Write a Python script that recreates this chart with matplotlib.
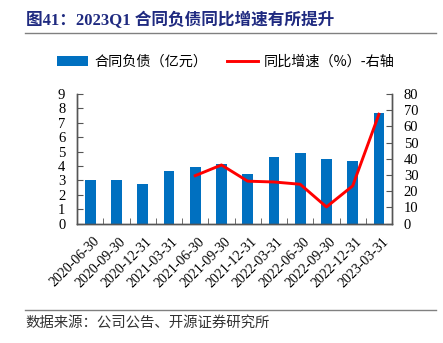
import numpy as np
import matplotlib.pyplot as plt

plt.rcParams['font.family'] = ['Liberation Serif', 'Noto Sans CJK SC']

dates = ["2020-06-30", "2020-09-30", "2020-12-31", "2021-03-31", "2021-06-30",
         "2021-09-30", "2021-12-31", "2022-03-31", "2022-06-30", "2022-09-30",
         "2022-12-31", "2023-03-31"]
liab = [3.03, 3.01, 2.76, 3.66, 3.94, 4.12, 3.45, 4.61, 4.91, 4.49, 4.33, 7.69]
# yoy growth starts at 2021-06-30
yoy = [np.nan] * 4 + [29.6, 36.2, 26.2, 25.7, 24.3, 10.3, 23.3, 67.5]

fig = plt.figure(figsize=(4.43, 3.43), dpi=100)
ax = fig.add_axes([0.174, 0.348, 0.711, 0.378])
ax2 = ax.twinx()

x = np.arange(len(dates))
ax.bar(x, liab, width=0.41, color="#0070C0", label="合同负债（亿元）", zorder=2)
ax2.plot(x, yoy, color="#FF0000", lw=2.1, label="同比增速（%）-右轴", zorder=3)

ax.set_xlim(-0.5, len(dates) - 0.5)
ax.set_ylim(0, 9)
ax.set_yticks(range(0, 10))
ax2.set_ylim(0, 80)
ax2.set_yticks(range(0, 81, 10))

ax.set_xticks(x + 0.1)
ax.set_xticklabels(dates, rotation=45, ha="right", rotation_mode="anchor", fontsize=10)
ax.tick_params(axis="x", length=0, pad=8)
ax.set_xticks(np.arange(-0.5, len(dates)), minor=True)
ax.tick_params(axis="x", which="minor", direction="in", length=4, color="#555555")
ax.tick_params(axis="y", direction="in", length=4, labelsize=10.5, pad=8.5, color="#555555")
ax2.tick_params(axis="y", direction="in", length=4, labelsize=10.5, pad=8.5, color="#555555")

for a in (ax, ax2):
    a.spines["top"].set_visible(False)
    for s in ("left", "right", "bottom"):
        a.spines[s].set_color("#555555")
        a.spines[s].set_linewidth(1.0)

h1, l1 = ax.get_legend_handles_labels()
h2, l2 = ax2.get_legend_handles_labels()
fig.legend(h1 + h2, l1 + l2, loc="center", bbox_to_anchor=(0.51, 0.82), ncol=2,
           frameon=False, prop={"family": "Noto Sans CJK SC", "size": 10.2},
           handlelength=2.2, columnspacing=1.4, handletextpad=0.4)

fig.text(0.058, 0.94, "图41：2023Q1 合同负债同比增速有所提升", fontsize=12,
         fontweight="bold", color="#1F2A80", va="center")
fig.add_artist(plt.Line2D([0.056, 0.984], [0.905, 0.905], color="#808080", lw=1))
fig.add_artist(plt.Line2D([0.056, 0.984], [0.096, 0.096], color="#808080", lw=1))
fig.text(0.058, 0.058, "数据来源：公司公告、开源证券研究所", fontsize=10.4,
         family="Noto Sans CJK SC", color="#333333", va="center")

fig.savefig("out.png", dpi=100)
